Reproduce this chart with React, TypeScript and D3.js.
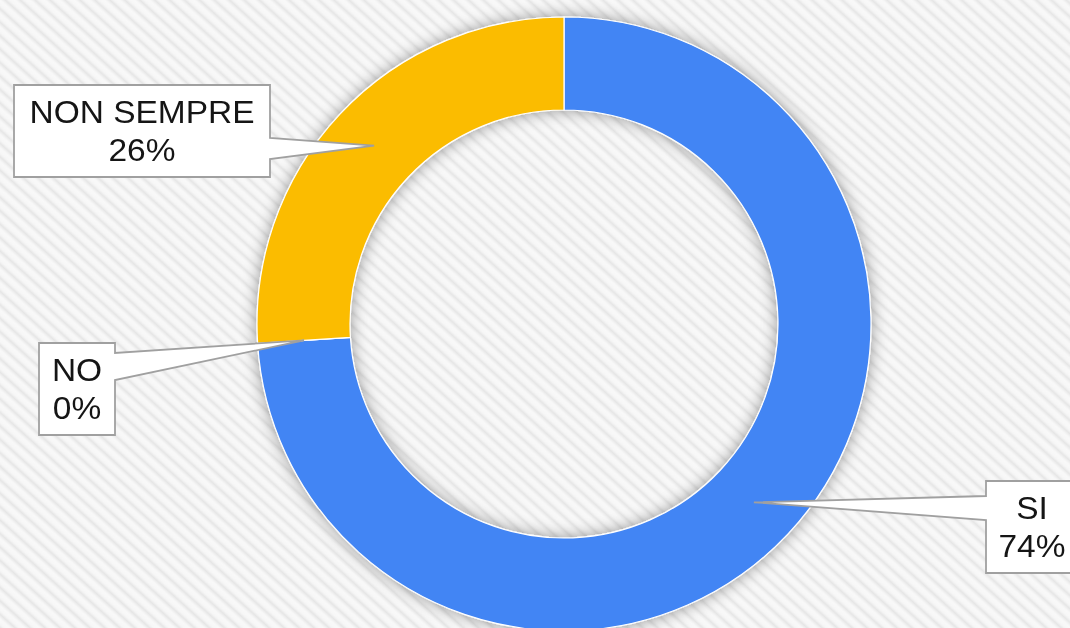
import React from "react";
import * as d3 from "d3";

const categories = ["SI", "NO", "NON SEMPRE"];
const values = [74, 0, 26];
const colors = ["#4285F4", "#DC3912", "#FBBC04"];

// callout box layout (x, y, w, h) and side of the pointer
const boxes = [
  { x: 986, y: 481, w: 100, h: 92, side: "left", w0: 496, w1: 520 },
  { x: 39, y: 343, w: 76, h: 92, side: "right", w0: 353, w1: 380 },
  { x: 14, y: 85, w: 256, h: 92, side: "right", w0: 138, w1: 159 },
];

const W = 1070;
const H = 628;
const cx = 564;
const cy = 324;
const R = 307;
const r = 214;

export default function App() {
  const pie = d3
    .pie<number>()
    .sort(null)
    .value((d) => d)(values);
  const arc = d3.arc<d3.PieArcDatum<number>>().innerRadius(r).outerRadius(R);

  const total = d3.sum(values);

  const callout = (i: number) => {
    const b = boxes[i];
    const [tx, ty] = arc.centroid(pie[i]);
    const px = tx + cx;
    const py = ty + cy;
    let d = "";
    if (b.side === "right") {
      const ex = b.x + b.w;
      d = `M${b.x},${b.y} L${ex},${b.y} L${ex},${b.w0} L${px},${py} L${ex},${b.w1} L${ex},${b.y + b.h} L${b.x},${b.y + b.h} Z`;
    } else {
      const ex = b.x;
      d = `M${ex},${b.y} L${b.x + b.w},${b.y} L${b.x + b.w},${b.y + b.h} L${ex},${b.y + b.h} L${ex},${b.w1} L${px},${py} L${ex},${b.w0} Z`;
    }
    const pct = Math.round((values[i] / total) * 100) + "%";
    const tcx = b.side === "left" ? 1032 : b.x + b.w / 2;
    const style = { transform: `translate(${tcx}px,0) scaleX(1.08)` } as React.CSSProperties;
    return (
      <g key={i}>
        <path d={d} fill="#ffffff" stroke="#a0a0a0" strokeWidth={1.8} strokeLinejoin="miter" />
        <g style={style}>
          <text x={0} y={b.y + 38} textAnchor="middle" fontSize={31} fill="#151515">
            {categories[i]}
          </text>
          <text x={0} y={b.y + 76} textAnchor="middle" fontSize={31} fill="#151515">
            {pct}
          </text>
        </g>
      </g>
    );
  };

  return (
    <svg
      width={W}
      height={H}
      style={{ position: "fixed", left: 0, top: 0, display: "block" }}
      fontFamily="'Liberation Sans', Arial, sans-serif"
    >
      <defs>
        <linearGradient id="stripeGrad" x1="0" y1="0" x2="0" y2="1">
          <stop offset="0" stopColor="#f9f9f9" />
          <stop offset="0.4" stopColor="#f6f6f6" />
          <stop offset="0.65" stopColor="#e6e6e6" />
          <stop offset="0.88" stopColor="#f3f3f3" />
          <stop offset="1" stopColor="#f9f9f9" />
        </linearGradient>
        <pattern
          id="stripes"
          width={20}
          height={10}
          patternUnits="userSpaceOnUse"
          patternTransform="rotate(42)"
        >
          <rect width={20} height={10} fill="url(#stripeGrad)" />
        </pattern>
        <filter id="shadow" x="-20%" y="-20%" width="140%" height="140%">
          <feDropShadow dx={0} dy={0} stdDeviation={8} floodColor="#000" floodOpacity={0.4} />
        </filter>
      </defs>
      <rect width={W} height={H} fill="url(#stripes)" />
      <g transform={`translate(${cx},${cy})`} filter="url(#shadow)">
        {pie.map((p, i) => (
          <path key={i} d={arc(p) || ""} fill={colors[i]} stroke="#ffffff" strokeWidth={1.2} />
        ))}
      </g>
      {boxes.map((_, i) => callout(i))}
    </svg>
  );
}
